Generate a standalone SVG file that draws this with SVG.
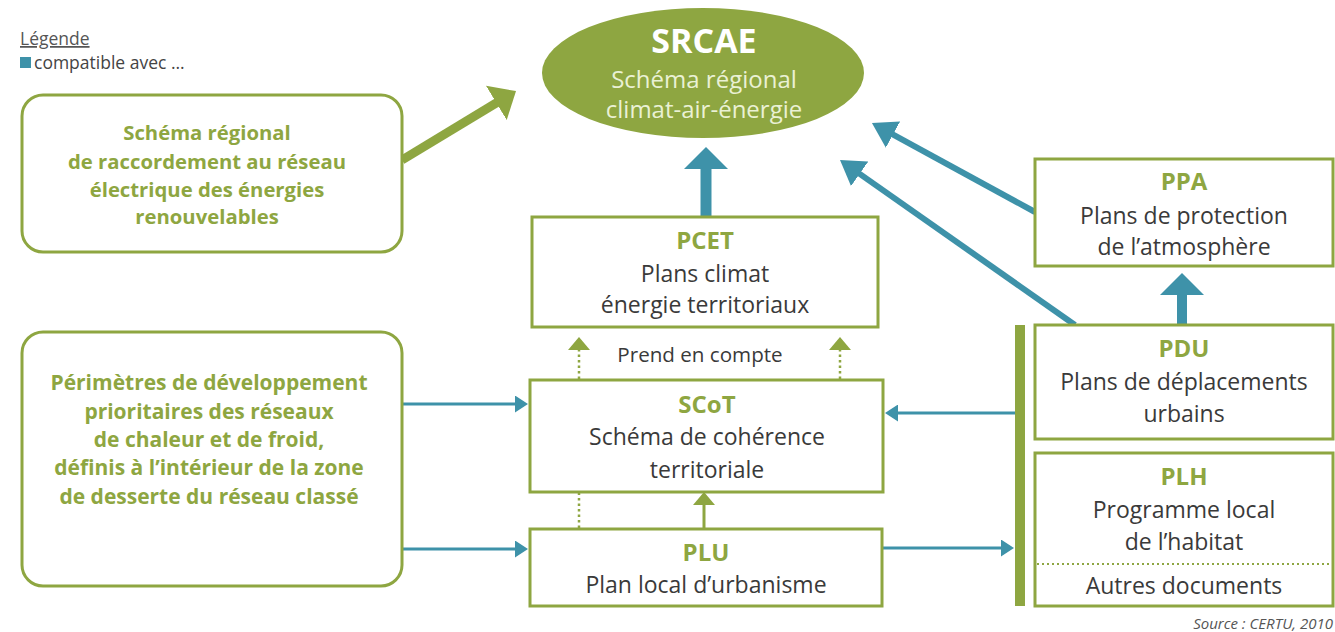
<svg xmlns="http://www.w3.org/2000/svg" width="1335" height="632" viewBox="0 0 1335 632">
<defs>
<style>
.box{fill:#fff;stroke:#8ea641;stroke-width:3}
.t{font-family:"Open Sans","Noto Sans",sans-serif;text-anchor:middle;fill:#3a3a3a;font-size:23px}
.h{font-family:"Open Sans","Noto Sans",sans-serif;text-anchor:middle;fill:#8ea641;font-size:24px;font-weight:bold}
.g1{font-family:"Open Sans","Noto Sans",sans-serif;text-anchor:middle;fill:#8ea641;font-size:20.3px;font-weight:bold}
.g2{font-family:"Open Sans","Noto Sans",sans-serif;text-anchor:middle;fill:#8ea641;font-size:21px;font-weight:bold}
.blue{stroke:#3e92a9;fill:none}
.green{stroke:#8ea641;fill:none}
</style>
<marker id="bT" viewBox="0 0 22 44" refX="3" refY="22" markerWidth="22" markerHeight="44" markerUnits="userSpaceOnUse" orient="auto"><path d="M0,0 L22,22 L0,44 z" fill="#3e92a9"/></marker>
<marker id="bD" viewBox="0 0 24 30" refX="3" refY="15" markerWidth="24" markerHeight="30" markerUnits="userSpaceOnUse" orient="auto"><path d="M0,0 L24,15 L0,30 z" fill="#3e92a9"/></marker>
<marker id="bS" viewBox="0 0 13 17" refX="2" refY="8.5" markerWidth="13" markerHeight="17" markerUnits="userSpaceOnUse" orient="auto"><path d="M0,0 L13,8.5 L0,17 z" fill="#3e92a9"/></marker>
<marker id="gT" viewBox="0 0 23 40" refX="3" refY="20" markerWidth="23" markerHeight="40" markerUnits="userSpaceOnUse" orient="auto"><path d="M0,0 L23,20 L0,40 z" fill="#8ea641"/></marker>
<marker id="gS" viewBox="0 0 13 22" refX="2" refY="11" markerWidth="13" markerHeight="22" markerUnits="userSpaceOnUse" orient="auto"><path d="M0,0 L13,11 L0,22 z" fill="#8ea641"/></marker>
</defs>
<rect width="1335" height="632" fill="#fff"/>

<g id="legend">
<text x="20" y="45" font-family="Open Sans, sans-serif" font-size="17.5" fill="#555" text-decoration="underline">Légende</text>
<rect x="20" y="57" width="11" height="11" fill="#3e92a9"/>
<text x="34" y="69" font-family="Open Sans, sans-serif" font-size="17.5" fill="#444">compatible avec ...</text>
</g>

<g id="connectors">
<line class="green" x1="402" y1="160" x2="498.9" y2="101.4" stroke-width="9" marker-end="url(#gT)"/>
<line class="blue" x1="706" y1="217" x2="706" y2="166" stroke-width="11" marker-end="url(#bT)"/>
<line class="blue" x1="1035" y1="212" x2="890.4" y2="133.1" stroke-width="6" marker-end="url(#bD)"/>
<line class="blue" x1="1075" y1="325" x2="857.2" y2="172.1" stroke-width="6" marker-end="url(#bD)"/>
<line class="blue" x1="1182" y1="325" x2="1182" y2="292" stroke-width="10" marker-end="url(#bT)"/>
<line class="blue" x1="402" y1="404" x2="517" y2="404" stroke-width="3" marker-end="url(#bS)"/>
<line class="blue" x1="402" y1="549" x2="517" y2="549" stroke-width="3" marker-end="url(#bS)"/>
<line class="blue" x1="1015" y1="413" x2="896" y2="413" stroke-width="3" marker-end="url(#bS)"/>
<line class="blue" x1="882" y1="548" x2="1003" y2="548" stroke-width="3" marker-end="url(#bS)"/>
<line class="green" x1="579" y1="379" x2="579" y2="348" stroke-width="2.5" stroke-dasharray="2.5 3" marker-end="url(#gS)"/>
<line class="green" x1="840" y1="379" x2="840" y2="348" stroke-width="2.5" stroke-dasharray="2.5 3" marker-end="url(#gS)"/>
<line class="green" x1="579" y1="528" x2="579" y2="493" stroke-width="2.5" stroke-dasharray="2.5 3"/>
<line class="green" x1="704" y1="528" x2="704" y2="503" stroke-width="3" marker-end="url(#gS)"/>
<rect x="1015" y="325" width="10" height="281" fill="#8ea641"/>
<text x="700" y="362" class="t" style="font-size:20.6px">Prend en compte</text>
</g>

<g id="srcae">
<ellipse cx="703" cy="73" rx="161" ry="65" fill="#8ea641"/>
<text x="704" y="53" font-family="Open Sans, sans-serif" font-size="34" font-weight="bold" fill="#fff" text-anchor="middle">SRCAE</text>
<text x="704" y="88" font-family="Open Sans, sans-serif" font-size="24" fill="#eaf1d4" text-anchor="middle">Schéma régional</text>
<text x="704" y="118" font-family="Open Sans, sans-serif" font-size="24" fill="#eaf1d4" text-anchor="middle">climat-air-énergie</text>
</g>

<g id="raccordement">
<rect class="box" x="22" y="95" width="380" height="157" rx="21"/>
<text class="g1" x="207" y="140">Schéma régional</text>
<text class="g1" x="207" y="169">de raccordement au réseau</text>
<text class="g1" x="207" y="197">électrique des énergies</text>
<text class="g1" x="207" y="224">renouvelables</text>
</g>

<g id="perimetres">
<rect class="box" x="22" y="332" width="380" height="254" rx="21"/>
<text class="g2" x="209" y="390">Périmètres de développement</text>
<text class="g2" x="209" y="419">prioritaires des réseaux</text>
<text class="g2" x="209" y="447">de chaleur et de froid,</text>
<text class="g2" x="209" y="475">définis à l’intérieur de la zone</text>
<text class="g2" x="209" y="504">de desserte du réseau classé</text>
</g>

<g id="pcet">
<rect class="box" x="532" y="217" width="346" height="110"/>
<text class="h" x="705" y="249">PCET</text>
<text class="t" x="705" y="282">Plans climat</text>
<text class="t" x="705" y="313">énergie territoriaux</text>
</g>

<g id="scot">
<rect class="box" x="530" y="380" width="353" height="112"/>
<text class="h" x="707" y="413">SCoT</text>
<text class="t" x="707" y="445">Schéma de cohérence</text>
<text class="t" x="707" y="478">territoriale</text>
</g>

<g id="plu">
<rect class="box" x="530" y="529" width="352" height="77"/>
<text class="h" x="706" y="561">PLU</text>
<text class="t" x="706" y="593">Plan local d’urbanisme</text>
</g>

<g id="ppa">
<rect class="box" x="1035" y="159" width="298" height="107"/>
<text class="h" x="1184" y="190">PPA</text>
<text class="t" x="1184" y="224">Plans de protection</text>
<text class="t" x="1184" y="255">de l’atmosphère</text>
</g>

<g id="pdu">
<rect class="box" x="1035" y="325" width="298" height="114"/>
<text class="h" x="1184" y="357">PDU</text>
<text class="t" x="1184" y="390">Plans de déplacements</text>
<text class="t" x="1184" y="422">urbains</text>
</g>

<g id="plh">
<rect class="box" x="1035" y="453" width="298" height="153"/>
<text class="h" x="1184" y="485">PLH</text>
<text class="t" x="1184" y="518">Programme local</text>
<text class="t" x="1184" y="550">de l’habitat</text>
<line x1="1037" y1="564" x2="1331" y2="564" stroke="#8ea641" stroke-width="2" stroke-dasharray="2 3"/>
<text class="t" x="1184" y="594">Autres documents</text>
</g>

<text x="1333" y="629" font-family="Open Sans, sans-serif" font-size="15" font-style="italic" fill="#555" text-anchor="end">Source : CERTU, 2010</text>
</svg>
